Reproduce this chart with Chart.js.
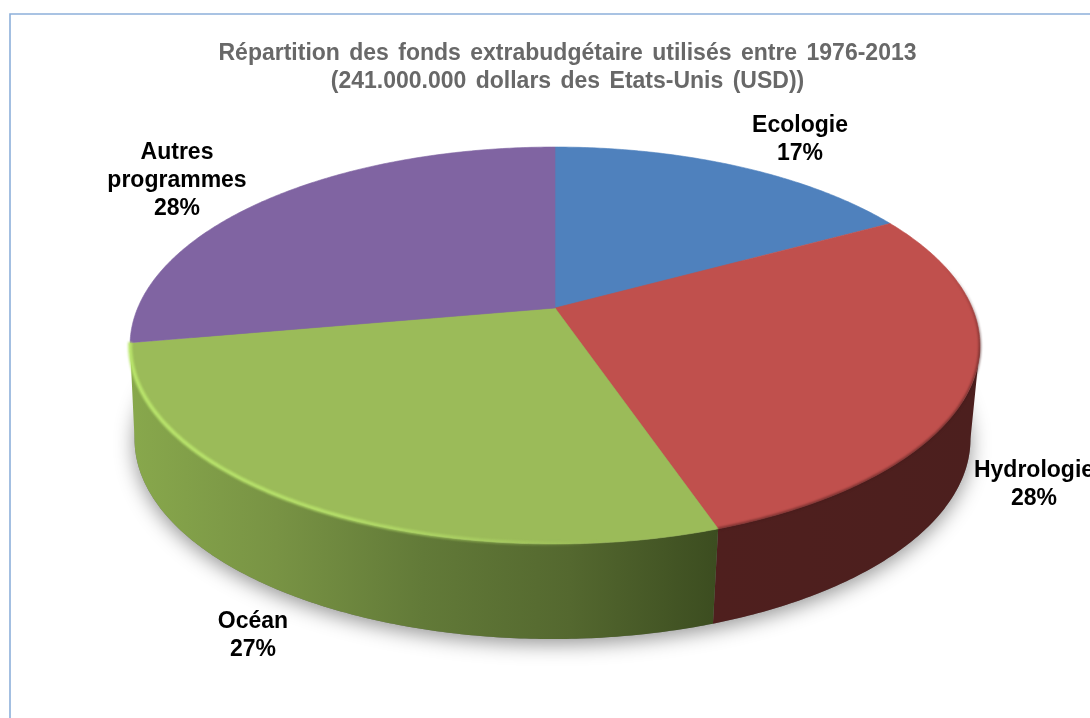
<!DOCTYPE html>
<html>
<head>
<meta charset="utf-8">
<style>
html,body{margin:0;padding:0;background:#fff}
canvas{display:block;filter:blur(0.35px)}
</style>
<script src="https://cdn.jsdelivr.net/npm/chart.js@4"></script>
</head>
<body>
<canvas id="c" width="1090" height="718"></canvas>
<script>
const categories = ["Ecologie", "Hydrologie", "Océan", "Autres programmes"];
const shares = [17, 27.8, 27.4, 27.8];
const faceColors = ["#4f81bd", "#c0504d", "#9bbb59", "#8064a2"];
const titleLines = ["Répartition des fonds extrabudgétaire utilisés entre 1976-2013", "(241.000.000 dollars des Etats-Unis (USD))"];
const labelLines = [["Ecologie"], ["Hydrologie"], ["Océan"], ["Autres", "programmes"]];
const labelAnchors = [[800, 132], [1034, 477], [253, 628], [177, 159]];

// Perspective of the pie plane
const view = {cx: 555, cy: 308, A: 417.3, B: 191.4, p: 0.189};
const base = {cx: 552.5, cy: 439, sx: 418 / 425, sy: 200 / 198.5, topCy: 345.5};
function topPoint(theta, r) {
  const u = r * Math.sin(theta), v = -r * Math.cos(theta), w = 1 - view.p * v;
  return [view.cx + view.A * u / w, view.cy + view.B * v / w];
}
function basePoint(theta) {
  const t = topPoint(theta, 1);
  return [base.cx + base.sx * (t[0] - view.cx), base.cy + base.sy * (t[1] - base.topCy)];
}
const visFrom = Math.PI - Math.acos(view.p), visTo = Math.PI + Math.acos(view.p);
function rim(fn, a, b) {
  const n = Math.max(2, Math.ceil(Math.abs(b - a) / 0.01)), pts = [];
  for (let i = 0; i <= n; i++) pts.push(fn(a + (b - a) * i / n, 1));
  return pts;
}
function trace(ctx, pts, move) {
  pts.forEach((p, i) => (i === 0 && move) ? ctx.moveTo(p[0], p[1]) : ctx.lineTo(p[0], p[1]));
}

const pie3d = {
  id: "pie3d",
  beforeDraw(chart) {
    const ctx = chart.ctx;
    ctx.save();
    ctx.strokeStyle = "#8db0da";
    ctx.lineWidth = 1.6;
    ctx.beginPath();
    ctx.moveTo(10, 718); ctx.lineTo(10, 14); ctx.lineTo(1090, 14);
    ctx.stroke();
    ctx.restore();
    ctx.wordSpacing = "3px";
  },
  beforeDatasetDraw(chart) {
    const ctx = chart.ctx;
    ctx.wordSpacing = "0px";
    const arcs = chart.getDatasetMeta(0).data;
    const angles = arcs.map(a => [a.startAngle + Math.PI / 2, a.endAngle + Math.PI / 2]);

    // soft ground shadow
    ctx.save();
    ctx.shadowColor = "rgba(0,0,0,0.42)";
    ctx.shadowBlur = 20;
    ctx.shadowOffsetY = 5;
    ctx.fillStyle = "#777";
    ctx.beginPath();
    trace(ctx, rim(basePoint, 0, Math.PI * 2), true);
    ctx.closePath();
    ctx.fill();
    ctx.restore();

    // side wall
    const green = ctx.createLinearGradient(130, 0, 716, 0);
    green.addColorStop(0, "#88a84c");
    green.addColorStop(0.25, "#789344");
    green.addColorStop(0.5, "#627a38");
    green.addColorStop(0.75, "#54682f");
    green.addColorStop(1, "#3c4d20");
    const red = ctx.createLinearGradient(716, 0, 975, 0);
    red.addColorStop(0, "#4f1f1e");
    red.addColorStop(1, "#4c1f1e");
    const sideFill = [null, red, green, null];
    angles.forEach((a, i) => {
      const from = Math.max(a[0], visFrom), to = Math.min(a[1], visTo);
      if (from >= to) return;
      ctx.beginPath();
      trace(ctx, rim(topPoint, from, to), true);
      trace(ctx, rim(basePoint, to, from), false);
      ctx.closePath();
      ctx.fillStyle = sideFill[i] || faceColors[i];
      ctx.fill();
    });

    // top faces, taken from the arc elements
    angles.forEach((a, i) => {
      ctx.beginPath();
      const c = topPoint(0, 0);
      ctx.moveTo(c[0], c[1]);
      trace(ctx, rim(topPoint, a[0], a[1]), false);
      ctx.closePath();
      ctx.fillStyle = faceColors[i];
      ctx.fill();
      ctx.strokeStyle = faceColors[i];
      ctx.lineWidth = 0.6;
      ctx.stroke();
    });

    // bevel highlight on the green rim
    const glow = ctx.createLinearGradient(130, 0, 600, 0);
    glow.addColorStop(0, "rgba(186,230,108,0.95)");
    glow.addColorStop(0.45, "rgba(186,230,108,0.8)");
    glow.addColorStop(0.8, "rgba(186,230,108,0.35)");
    glow.addColorStop(1, "rgba(186,230,108,0)");
    ctx.save();
    ctx.beginPath();
    trace(ctx, rim(topPoint, angles[2][0], angles[2][1]).map(p => [p[0], p[1] - 0.5]), true);
    ctx.strokeStyle = glow;
    ctx.lineWidth = 4;
    ctx.filter = "blur(0.8px)";
    ctx.stroke();
    // dark soft edge on the red rim
    const edge = ctx.createLinearGradient(0, 262, 0, 350);
    edge.addColorStop(0, "rgba(70,25,25,0)");
    edge.addColorStop(1, "rgba(70,25,25,0.6)");
    ctx.beginPath();
    trace(ctx, rim(topPoint, 0.9, angles[1][1]), true);
    ctx.strokeStyle = edge;
    ctx.lineWidth = 2.5;
    ctx.stroke();
    ctx.restore();
    return false;
  },
  afterDatasetsDraw(chart) {
    const ctx = chart.ctx;
    const total = shares.reduce((s, v) => s + v, 0);
    ctx.save();
    ctx.fillStyle = "#000";
    ctx.font = "bold 23px 'Liberation Sans', Arial, sans-serif";
    ctx.textAlign = "center";
    ctx.textBaseline = "alphabetic";
    categories.forEach((name, i) => {
      const lines = labelLines[i].concat([Math.round(shares[i] / total * 100) + "%"]);
      lines.forEach((t, j) => ctx.fillText(t, labelAnchors[i][0], labelAnchors[i][1] + j * 28));
    });
    ctx.restore();
  }
};

new Chart(document.getElementById("c"), {
  type: "pie",
  data: {
    labels: categories,
    datasets: [{data: shares, backgroundColor: faceColors, borderWidth: 0}]
  },
  options: {
    responsive: false,
    animation: false,
    layout: {padding: {left: 45}},
    plugins: {
      legend: {display: false},
      tooltip: {enabled: false},
      title: {
        display: true,
        text: titleLines,
        color: "#686868",
        font: {family: "'Liberation Sans', Arial, sans-serif", size: 23, weight: "bold", lineHeight: 1.22},
        padding: {top: 40, bottom: 10}
      }
    }
  },
  plugins: [pie3d]
});
</script>
</body>
</html>
